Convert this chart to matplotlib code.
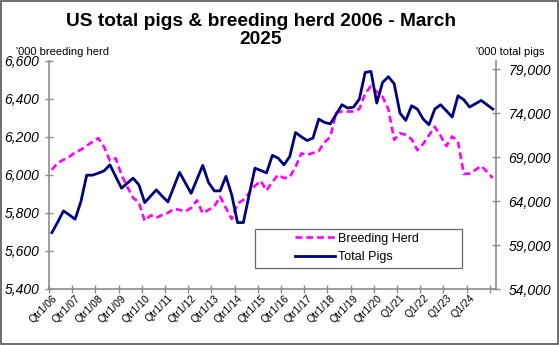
import matplotlib
matplotlib.use('Agg')
import matplotlib.pyplot as plt
import numpy as np
from matplotlib.patches import Rectangle
from matplotlib.ticker import FuncFormatter

plt.rcParams['font.family'] = ['Liberation Sans', 'DejaVu Sans']

# quarterly inventories Q1 2006 .. Q1 2025, '000 head
breeding_herd = [6026, 6063, 6079, 6095, 6118, 6132, 6153, 6174, 6193, 6147,
                 6074, 6087, 6000, 5937, 5879, 5855, 5758, 5787, 5774, 5789,
                 5800, 5821, 5816, 5808, 5826, 5866, 5798, 5816, 5834, 5886,
                 5826, 5768, 5849, 5868, 5905, 5942, 5968, 5918, 5963, 6000,
                 5983, 5988, 6041, 6113, 6105, 6115, 6125, 6171, 6200, 6326,
                 6333, 6333, 6333, 6346, 6426, 6467, 6437, 6410, 6346, 6184,
                 6219, 6210, 6188, 6130, 6163, 6208, 6253, 6205, 6151, 6202,
                 6175, 6005, 6007, 6026, 6047, 6016, 5983]
total_pigs = [60420, 61618, 62895, 62439, 61948, 63955, 66966, 66966, 67194, 67456,
              68140, 66806, 65483, 66053, 66624, 65860, 63841, 64571, 65289, 64571,
              63921, 65597, 67285, 66088, 64890, 66487, 68083, 66122, 65175, 65175,
              66829, 64719, 61561, 61561, 64719, 67764, 67490, 67228, 69224, 68904,
              68140, 69087, 71824, 71333, 70911, 71185, 73352, 72964, 72816, 73899,
              74982, 74606, 74720, 75633, 78666, 78780, 75176, 77525, 78175, 77377,
              74036, 73192, 74868, 74492, 73352, 72702, 74492, 74982, 74298, 73580,
              76009, 75553, 74720, 75096, 75473, 74982, 74492]
year_labels = ['Qtr1/06', 'Qtr1/07', 'Qtr1/08', 'Qtr1/09', 'Qtr1/10', 'Qtr1/11',
               'Qtr1/12', 'Qtr1/13', 'Qtr1/14', 'Qtr1/15', 'Qtr1/16', 'Qtr1/17',
               'Qtr1/18', 'Qtr1/19', 'Qtr1/20', 'Q1/21', 'Q1/22', 'Q1/23', 'Q1/24']

W, H = 559, 345
fig = plt.figure(figsize=(W/100, H/100), dpi=100)
fig.patches.append(Rectangle((0.001, 0.002), 0.997, 0.995, transform=fig.transFigure,
                             fill=False, edgecolor='#555555', lw=1.2))

ax = fig.add_axes([49/W, 1-289/H, (495.7-49)/W, (289-60.7)/H])
n = len(breeding_herd)
x = np.arange(n) + 0.5

gray = '#8c8c8c'
ax.plot(x, breeding_herd, color='#FF00FF', lw=1.9, ls=(0, (2.6, 1.5)), label='Breeding Herd')
ax.set_xlim(0, n)
ax.set_ylim(5400, 6600)
ax.set_yticks(np.arange(5400, 6601, 200))

ax2 = ax.twinx()
ax2.plot(x, total_pigs, color='#000080', lw=2.0, label='Total Pigs')
ax2.set_ylim(54000, 80000)
ax2.set_yticks(np.arange(54000, 79001, 5000))

comma = FuncFormatter(lambda v, p: f'{int(v):,}')
ax.yaxis.set_major_formatter(comma)
ax2.yaxis.set_major_formatter(comma)

for a in (ax, ax2):
    a.spines['top'].set_visible(False)
ax.spines['right'].set_visible(False)
ax2.spines['left'].set_visible(False)
ax2.spines['bottom'].set_visible(False)
ax.spines['left'].set_color(gray)
ax.spines['bottom'].set_color(gray)
ax2.spines['right'].set_color(gray)
for s in ('left', 'bottom'):
    ax.spines[s].set_linewidth(1.2)
ax2.spines['right'].set_linewidth(1.2)

ax.tick_params(axis='y', direction='inout', length=6, width=1, color=gray, labelsize=10, pad=4)
ax2.tick_params(axis='y', direction='inout', length=6, width=1, color=gray, labelsize=10, pad=6)
for t in ax.get_yticklabels() + ax2.get_yticklabels():
    t.set_style('italic')

ax.set_xticks(np.arange(0, n, 4))
ax.set_xticklabels([])
ax.tick_params(axis='x', which='major', direction='inout', length=6, width=1, color=gray)
ax.set_xticks(np.arange(len(year_labels)) * 4 + 0.5, minor=True)
ax.set_xticklabels(year_labels, minor=True, fontsize=7.5)
ax.tick_params(axis='x', which='minor', length=0, pad=3)
for t in ax.get_xticklabels(minor=True):
    t.set_rotation(45)
    t.set_ha('right')
    t.set_rotation_mode('anchor')

fig.text(261/W, 1-30.5/H, 'US total pigs & breeding herd 2006 - March\n2025',
         ha='center', va='center', fontsize=13.8, fontweight='bold', linespacing=1.12)
fig.text(16/W, 1-52/H, "'000 breeding herd", fontsize=8, va='center')
fig.text(545/W, 1-52/H, "'000 total pigs", fontsize=8, va='center', ha='right')

# legend box
ax2.add_patch(Rectangle(((255-49)/446.7, (289-268.3)/228.3), (461.7-255)/446.7, (268.3-229.3)/228.3,
                        transform=ax2.transAxes, facecolor='white', edgecolor='#666666',
                        lw=0.9, zorder=5))
h1, l1 = ax.get_legend_handles_labels()
h2, l2 = ax2.get_legend_handles_labels()
leg = ax2.legend(h1 + h2, l1 + l2, loc='center left',
                 bbox_to_anchor=((295-49)/446.7, (289-247.8)/228.3),
                 frameon=False, fontsize=9, handlelength=3.2, handletextpad=0.2,
                 borderpad=0, borderaxespad=0, labelspacing=0.5)
leg.set_zorder(6)

fig.savefig('out.png', dpi=100)
